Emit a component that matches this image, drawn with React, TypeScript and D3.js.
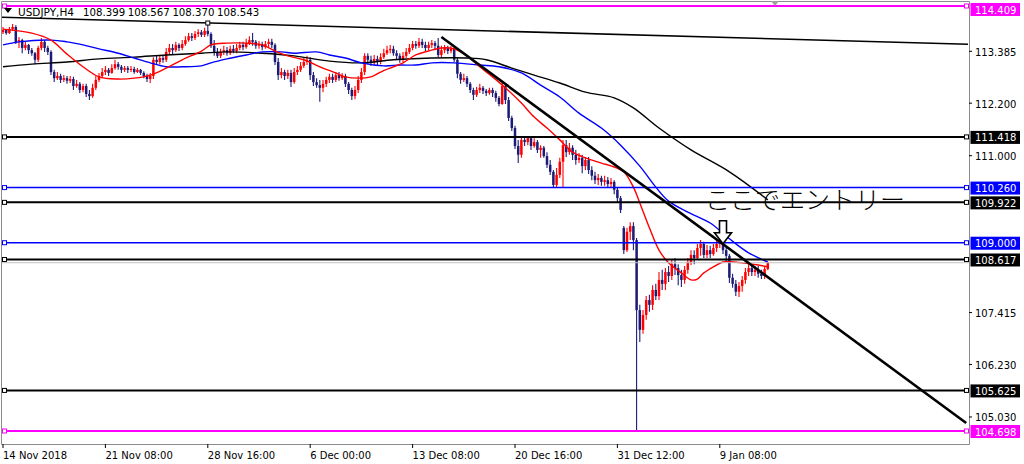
import * as d3 from "d3";

// USDJPY H4 candles
const opens = [
  113.81, 113.86, 113.79, 113.88, 113.93, 113.59, 113.63, 113.45, 113.52, 113.40,
  113.33, 113.18, 113.45, 113.59, 113.45, 113.36, 112.90, 112.76, 112.81, 112.72,
  112.76, 112.70, 112.74, 112.58, 112.63, 112.49, 112.58, 112.40, 112.35, 112.54,
  112.72, 112.81, 112.90, 112.95, 112.88, 112.99, 113.08, 113.02, 112.95, 112.99,
  112.95, 112.97, 112.90, 112.95, 112.88, 112.81, 112.74, 112.81, 113.18, 113.13,
  113.22, 113.18, 113.36, 113.45, 113.40, 113.52, 113.45, 113.54, 113.63, 113.72,
  113.68, 113.77, 113.81, 113.75, 113.84, 113.77, 113.50, 113.36, 113.27, 113.36,
  113.40, 113.33, 113.43, 113.38, 113.45, 113.52, 113.47, 113.56, 113.63, 113.59,
  113.50, 113.54, 113.47, 113.54, 113.59, 113.52, 113.13, 112.83, 112.90, 112.81,
  112.88, 112.67, 112.90, 112.95, 113.04, 113.13, 113.18, 112.83, 112.67, 112.60,
  112.54, 112.63, 112.72, 112.79, 112.72, 112.83, 112.76, 112.81, 112.63, 112.49,
  112.35, 112.49, 112.72, 112.90, 113.27, 113.18, 113.13, 113.20, 113.13, 113.24,
  113.33, 113.40, 113.43, 113.33, 113.27, 113.18, 113.27, 113.36, 113.45, 113.54,
  113.50, 113.59, 113.52, 113.45, 113.52, 113.56, 113.50, 113.29, 113.40, 113.45,
  113.38, 113.43, 113.18, 112.86, 112.72, 112.76, 112.63, 112.49, 112.38, 112.49,
  112.54, 112.47, 112.42, 112.49, 112.42, 112.31, 112.17, 112.58, 112.26, 111.85,
  111.62, 111.21, 111.01, 111.35, 111.30, 111.39, 111.21, 111.30, 111.12, 111.17,
  110.98, 110.78, 110.62, 110.32, 110.55, 110.85, 111.23, 111.07, 111.17, 111.01,
  110.89, 110.94, 110.75, 110.89, 110.66, 110.53, 110.43, 110.48, 110.39, 110.43,
  110.34, 110.39, 110.21, 110.02, 109.34, 108.83, 109.25, 109.38, 109.06, 107.46,
  107.01, 107.35, 107.69, 107.58, 107.92, 107.78, 108.15, 108.06, 108.33, 108.24,
  108.51, 108.42, 108.26, 108.15, 108.38, 108.56, 108.72, 108.65, 108.88, 108.97,
  108.72, 108.83, 108.74, 108.88, 108.97, 109.06, 108.83, 108.70, 108.20, 108.06,
  107.88, 108.01, 108.15, 108.33, 108.42, 108.33, 108.38, 108.29, 108.24, 108.399,
];
const highs = [
  113.93, 113.88, 113.93, 114.00, 113.97, 113.70, 113.66, 113.59, 113.54, 113.45,
  113.36, 113.50, 113.68, 113.63, 113.50, 113.40, 112.95, 112.90, 112.86, 112.83,
  112.81, 112.81, 112.79, 112.72, 112.67, 112.63, 112.63, 112.49, 112.63, 112.81,
  112.88, 112.99, 113.04, 112.99, 113.08, 113.18, 113.13, 113.06, 113.04, 113.04,
  113.04, 113.02, 112.99, 112.97, 112.92, 112.86, 112.88, 113.24, 113.27, 113.29,
  113.29, 113.45, 113.54, 113.54, 113.59, 113.56, 113.63, 113.72, 113.79, 113.79,
  113.84, 113.88, 113.86, 113.91, 114.02, 113.81, 113.63, 113.45, 113.43, 113.50,
  113.47, 113.50, 113.52, 113.54, 113.59, 113.59, 113.66, 113.72, 113.79, 113.63,
  113.61, 113.59, 113.61, 113.66, 113.66, 113.56, 113.22, 112.99, 112.95, 112.95,
  112.95, 112.99, 113.04, 113.13, 113.22, 113.27, 113.24, 112.90, 112.76, 112.72,
  112.72, 112.79, 112.86, 112.86, 112.90, 112.90, 112.88, 112.86, 112.67, 112.54,
  112.58, 112.81, 112.99, 113.33, 113.33, 113.27, 113.29, 113.27, 113.33, 113.43,
  113.50, 113.52, 113.50, 113.40, 113.33, 113.36, 113.45, 113.54, 113.61, 113.61,
  113.68, 113.66, 113.59, 113.59, 113.63, 113.61, 113.68, 113.50, 113.52, 113.50,
  113.50, 113.47, 113.22, 112.90, 112.86, 112.81, 112.67, 112.54, 112.56, 112.63,
  112.58, 112.51, 112.54, 112.54, 112.47, 112.35, 112.65, 112.63, 112.33, 111.90,
  111.67, 111.35, 111.44, 111.42, 111.44, 111.44, 111.39, 111.35, 111.23, 111.21,
  111.07, 110.89, 110.66, 110.71, 110.94, 111.35, 111.35, 111.28, 111.23, 111.12,
  111.05, 111.01, 110.96, 110.96, 110.75, 110.62, 110.57, 110.53, 110.53, 110.50,
  110.48, 110.43, 110.25, 110.07, 109.38, 109.34, 109.47, 109.47, 109.11, 107.58,
  107.46, 107.78, 107.81, 108.03, 108.06, 108.33, 108.38, 108.42, 108.47, 108.61,
  108.65, 108.51, 108.38, 108.47, 108.65, 108.83, 108.83, 108.97, 109.06, 109.02,
  108.95, 108.93, 108.97, 109.06, 109.15, 109.13, 108.93, 108.74, 108.29, 108.15,
  108.10, 108.24, 108.42, 108.51, 108.51, 108.47, 108.47, 108.38, 108.47, 108.567,
];
const lows = [
  113.77, 113.75, 113.77, 113.84, 113.54, 113.45, 113.33, 113.40, 113.31, 113.27,
  113.08, 113.13, 113.40, 113.36, 113.29, 112.83, 112.67, 112.72, 112.65, 112.67,
  112.63, 112.65, 112.49, 112.54, 112.42, 112.44, 112.33, 112.26, 112.31, 112.49,
  112.67, 112.76, 112.83, 112.81, 112.86, 112.95, 112.95, 112.88, 112.90, 112.88,
  112.90, 112.86, 112.88, 112.83, 112.76, 112.67, 112.65, 112.74, 113.06, 113.08,
  113.11, 113.13, 113.29, 113.31, 113.36, 113.38, 113.40, 113.50, 113.59, 113.61,
  113.63, 113.70, 113.70, 113.70, 113.72, 113.45, 113.27, 113.22, 113.22, 113.29,
  113.27, 113.29, 113.33, 113.33, 113.40, 113.40, 113.43, 113.52, 113.50, 113.43,
  113.43, 113.40, 113.43, 113.47, 113.45, 113.06, 112.72, 112.76, 112.72, 112.74,
  112.56, 112.63, 112.83, 112.90, 112.99, 113.06, 112.72, 112.58, 112.54, 112.22,
  112.44, 112.56, 112.65, 112.65, 112.67, 112.70, 112.72, 112.56, 112.40, 112.26,
  112.28, 112.42, 112.65, 112.83, 113.08, 113.04, 113.06, 113.04, 113.08, 113.20,
  113.29, 113.33, 113.27, 113.18, 113.11, 113.13, 113.22, 113.31, 113.40, 113.43,
  113.45, 113.45, 113.38, 113.40, 113.45, 113.40, 113.24, 113.24, 113.33, 113.31,
  113.33, 113.13, 112.76, 112.63, 112.67, 112.56, 112.42, 112.26, 112.33, 112.42,
  112.40, 112.35, 112.38, 112.33, 112.22, 112.12, 112.15, 112.17, 111.78, 111.55,
  111.14, 110.82, 110.94, 111.21, 111.23, 111.12, 111.17, 111.05, 110.94, 110.94,
  110.71, 110.55, 110.27, 110.27, 110.48, 110.27, 110.96, 111.01, 110.89, 110.78,
  110.82, 110.59, 110.66, 110.57, 110.43, 110.34, 110.32, 110.30, 110.30, 110.25,
  110.27, 110.11, 109.93, 109.68, 108.74, 108.79, 109.06, 108.83, 104.70, 106.73,
  106.92, 107.24, 107.42, 107.46, 107.69, 107.69, 107.92, 107.92, 108.10, 108.15,
  108.26, 108.03, 107.99, 108.06, 108.29, 108.49, 108.51, 108.61, 108.70, 108.65,
  108.65, 108.65, 108.70, 108.79, 108.88, 108.74, 108.56, 108.08, 107.97, 107.78,
  107.76, 107.88, 108.06, 108.24, 108.24, 108.24, 108.20, 108.17, 108.17, 108.370,
];
const closes = [
  113.86, 113.79, 113.88, 113.93, 113.59, 113.63, 113.45, 113.52, 113.40, 113.33,
  113.18, 113.45, 113.59, 113.45, 113.36, 112.90, 112.76, 112.81, 112.72, 112.76,
  112.70, 112.74, 112.58, 112.63, 112.49, 112.58, 112.40, 112.35, 112.54, 112.72,
  112.81, 112.90, 112.95, 112.88, 112.99, 113.08, 113.02, 112.95, 112.99, 112.95,
  112.97, 112.90, 112.95, 112.88, 112.81, 112.74, 112.81, 113.18, 113.13, 113.22,
  113.18, 113.36, 113.45, 113.40, 113.52, 113.45, 113.54, 113.63, 113.72, 113.68,
  113.77, 113.81, 113.75, 113.84, 113.77, 113.50, 113.36, 113.27, 113.36, 113.40,
  113.33, 113.43, 113.38, 113.45, 113.52, 113.47, 113.56, 113.63, 113.59, 113.50,
  113.54, 113.47, 113.54, 113.59, 113.52, 113.13, 112.83, 112.90, 112.81, 112.88,
  112.67, 112.90, 112.95, 113.04, 113.13, 113.18, 112.83, 112.67, 112.60, 112.54,
  112.63, 112.72, 112.79, 112.72, 112.83, 112.76, 112.81, 112.63, 112.49, 112.35,
  112.49, 112.72, 112.90, 113.27, 113.18, 113.13, 113.20, 113.13, 113.24, 113.33,
  113.40, 113.43, 113.33, 113.27, 113.18, 113.27, 113.36, 113.45, 113.54, 113.50,
  113.59, 113.52, 113.45, 113.52, 113.56, 113.50, 113.29, 113.40, 113.45, 113.38,
  113.43, 113.18, 112.86, 112.72, 112.76, 112.63, 112.49, 112.38, 112.49, 112.54,
  112.47, 112.42, 112.49, 112.42, 112.31, 112.17, 112.58, 112.26, 111.85, 111.62,
  111.21, 111.01, 111.35, 111.30, 111.39, 111.21, 111.30, 111.12, 111.17, 110.98,
  110.78, 110.62, 110.32, 110.55, 110.85, 111.23, 111.07, 111.17, 111.01, 110.89,
  110.94, 110.75, 110.89, 110.66, 110.53, 110.43, 110.48, 110.39, 110.43, 110.34,
  110.39, 110.21, 110.02, 109.75, 108.83, 109.25, 109.38, 109.06, 107.46, 107.01,
  107.35, 107.69, 107.58, 107.92, 107.78, 108.15, 108.06, 108.33, 108.24, 108.51,
  108.42, 108.26, 108.15, 108.38, 108.56, 108.72, 108.65, 108.88, 108.97, 108.72,
  108.83, 108.74, 108.88, 108.97, 109.06, 108.83, 108.70, 108.20, 108.06, 107.88,
  108.01, 108.15, 108.33, 108.42, 108.33, 108.38, 108.29, 108.24, 108.40, 108.543,
];

// moving averages, sampled by bar index
const redMaBars = [0, 9, 15, 20, 25, 30, 36, 41, 46, 51, 56, 62, 65, 70, 76, 81, 85, 89, 94, 100, 104, 107, 111, 115, 118, 122, 125, 129, 133, 137, 141, 145, 149, 153, 157, 162, 166, 170, 174, 178, 182, 187, 191, 194, 197, 199, 202, 205, 208, 212, 215, 217, 219, 222, 225, 228, 231, 236, 239];
const redMaValues = [113.88, 113.79, 113.63, 113.31, 113.02, 112.79, 112.74, 112.76, 112.83, 112.99, 113.18, 113.38, 113.52, 113.56, 113.56, 113.52, 113.38, 113.27, 113.18, 112.99, 112.88, 112.79, 112.76, 112.79, 112.90, 113.02, 113.11, 113.29, 113.38, 113.45, 113.43, 113.27, 113.02, 112.79, 112.54, 112.19, 111.87, 111.62, 111.35, 111.07, 110.94, 110.82, 110.73, 110.62, 110.27, 109.91, 109.34, 108.83, 108.54, 108.31, 108.15, 108.17, 108.31, 108.45, 108.56, 108.56, 108.54, 108.49, 108.45];
const blueMaBars = [0, 5, 15, 20, 25, 30, 36, 41, 46, 51, 56, 62, 65, 70, 76, 81, 87, 91, 98, 102, 107, 112, 119, 124, 129, 134, 141, 149, 155, 162, 168, 174, 180, 187, 193, 199, 204, 208, 214, 221, 227, 233, 239];
const blueMaValues = [113.52, 113.59, 113.63, 113.59, 113.52, 113.43, 113.33, 113.22, 113.11, 113.02, 113.02, 113.04, 113.11, 113.20, 113.29, 113.36, 113.36, 113.33, 113.36, 113.29, 113.22, 113.11, 113.04, 113.06, 113.06, 113.11, 113.11, 113.06, 113.02, 112.88, 112.60, 112.33, 111.96, 111.62, 111.23, 110.75, 110.27, 109.95, 109.70, 109.45, 109.09, 108.77, 108.56];
const blackMaBars = [0, 9, 20, 30, 41, 51, 62, 70, 81, 91, 102, 112, 122, 134, 145, 151, 159, 166, 174, 182, 191, 197, 205, 215, 227, 239];
const blackMaValues = [113.02, 113.08, 113.13, 113.20, 113.24, 113.29, 113.33, 113.36, 113.33, 113.27, 113.15, 113.11, 113.18, 113.22, 113.22, 113.18, 112.99, 112.83, 112.65, 112.44, 112.31, 112.08, 111.62, 111.12, 110.62, 109.98];

// horizontal price levels drawn on the chart
const levelPrices = [114.409, 111.418, 110.26, 109.922, 109.0, 108.617, 105.625, 104.698];
const levelKinds = ["range", "line", "zone", "line", "zone", "line", "line", "range"];
const bidPrice = 108.543;

// trend lines: [bar, price] pairs
const upperTrend = [[64, 114.02], [300, 113.54]];
const downTrend = [[137, 113.7], [301, 104.88]];

const priceTicks = [113.385, 112.2, 111.0, 107.415, 106.23, 105.03];
const timeLabels = ["14 Nov 2018", "21 Nov 08:00", "28 Nov 16:00", "6 Dec 00:00", "13 Dec 08:00", "20 Dec 16:00", "31 Dec 12:00", "9 Jan 08:00"];
const timeLabelBars = [0, 32, 64, 96, 128, 160, 192, 224];

const symbol = "USDJPY,H4";
const note = "ここでエントリー";
const entryBar = 225;

const kindColor: Record<string, string> = {
  range: "#ff00ff",
  line: "#000000",
  zone: "#0000ff",
};
const kindWidth: Record<string, number> = { range: 2, line: 2, zone: 1.5 };

const BULL = "#ff0000";
const BEAR = "#1c1c78";
const FONT = "DejaVu Sans, Verdana, sans-serif";

export default function App() {
  const x = d3.scaleLinear().domain([0, 301]).range([3, 966.2]);
  const y = d3.scaleLinear().domain([104.698, 114.409]).range([431, 6]);
  const left = 2;
  const right = 969;
  const bottom = 444;

  const maLine = (bars: number[], vals: number[]) =>
    d3
      .line<number>()
      .x((b) => x(b))
      .y((_b, i) => y(vals[i]))
      .curve(d3.curveCatmullRom)(bars) || "";

  const extend = (pts: number[][], fromX: number, toX: number) => {
    const [[b0, p0], [b1, p1]] = pts;
    const slope = (y(p1) - y(p0)) / (x(b1) - x(b0));
    return [fromX, y(p0) + (fromX - x(b0)) * slope, toX, y(p0) + (toX - x(b0)) * slope];
  };
  const up = extend(upperTrend, left, right - 1);
  const dn = [x(downTrend[0][0]), y(downTrend[0][1]), x(downTrend[1][0]), y(downTrend[1][1])];

  const last = closes.length - 1;
  const ohlc = [opens[last], highs[last], lows[last], closes[last]].map((v) => v.toFixed(3));

  const ax = x(entryBar);
  const ay = y(109.0) + 1;

  return (
    <svg
      width={1024}
      height={464}
      style={{ position: "absolute", left: 0, top: 0, background: "#fff" }}
      fontFamily={FONT}
    >
      <defs>
        <clipPath id="plot">
          <rect x={left} y={1} width={right - left} height={bottom - 1} />
        </clipPath>
      </defs>

      <g clipPath="url(#plot)">
        {closes.map((c, i) => {
          const o = opens[i];
          const col = c >= o ? BULL : BEAR;
          const cx = x(i);
          const top = Math.min(y(o), y(c));
          const h = Math.max(1, Math.abs(y(o) - y(c)));
          return (
            <g key={i}>
              <line x1={cx} x2={cx} y1={y(highs[i])} y2={y(lows[i])} stroke={col} strokeWidth={1.1} />
              <rect x={cx - 1.25} y={top} width={2.5} height={h} fill={col} />
            </g>
          );
        })}

        <path d={maLine(blackMaBars, blackMaValues)} fill="none" stroke="#000" strokeWidth={1.4} />
        <path d={maLine(blueMaBars, blueMaValues)} fill="none" stroke="#0000ff" strokeWidth={1.4} />
        <path d={maLine(redMaBars, redMaValues)} fill="none" stroke="#ff0000" strokeWidth={1.4} />

        <line x1={left} x2={right} y1={y(bidPrice)} y2={y(bidPrice)} stroke="#c0c0c0" strokeWidth={1} />

        {levelPrices.map((p, i) => {
          const col = kindColor[levelKinds[i]];
          const yy = y(p);
          return (
            <g key={p}>
              <line x1={left} x2={right} y1={yy} y2={yy} stroke={col} strokeWidth={kindWidth[levelKinds[i]]} />
              <rect x={2.5} y={yy - 2} width={4} height={4} fill="#fff" stroke={col} strokeWidth={1} />
              <rect x={964.5} y={yy - 2} width={4} height={4} fill="#fff" stroke={col} strokeWidth={1} />
            </g>
          );
        })}

        <line x1={up[0]} y1={up[1]} x2={up[2]} y2={up[3]} stroke="#000" strokeWidth={1.5} />
        <rect x={x(upperTrend[0][0]) - 2} y={y(upperTrend[0][1]) - 2} width={4} height={4} fill="#fff" stroke="#000" strokeWidth={1} />
        <line x1={dn[0]} y1={dn[1]} x2={dn[2]} y2={dn[3]} stroke="#000" strokeWidth={2.6} />

        <text
          x={705}
          y={209}
          fontFamily="Noto Sans CJK JP, sans-serif"
          fontSize={25}
          fontWeight={300}
          fill="#000"
        >
          {note}
        </text>

        <path
          d={`M${ax - 3.5},${ay - 23} H${ax + 3.5} V${ay - 11} H${ax + 8.5} L${ax},${ay} L${ax - 8.5},${ay - 11} H${ax - 3.5} Z`}
          fill="#fff"
          stroke="#000"
          strokeWidth={1.6}
          strokeLinejoin="miter"
        />
      </g>

      {/* frame */}
      <path d={`M${left - 0.5},${bottom + 0.5} V1.5 H${right + 0.5} V${bottom + 0.5} Z`} fill="none" stroke="#8c8c8c" strokeWidth={1} />
      <polygon points="771,1 779,1 775,6" fill="#a0a0a0" />

      {/* title */}
      <polygon points="4,8 12,8 8,13" fill="#000" />
      <text x={18} y={15.5} fontSize={10.5} fill="#000">
        {symbol}
      </text>
      {ohlc.map((v, i) => (
        <text key={i} x={83 + i * 44.7} y={15.5} fontSize={10.2} fill="#000">
          {v}
        </text>
      ))}

      {/* price axis */}
      {priceTicks.map((p) => (
        <g key={p}>
          <line x1={right} x2={right + 3} y1={y(p) + 0.5} y2={y(p) + 0.5} stroke="#000" />
          <text x={975} y={y(p) + 5} fontSize={10} fill="#000">
            {p.toFixed(3)}
          </text>
        </g>
      ))}
      {levelPrices.map((p, i) => {
        const yy = y(p);
        const top = Math.max(3, yy - 6);
        return (
          <g key={p}>
            <rect x={970.5} y={top} width={49.5} height={13} fill={kindColor[levelKinds[i]]} />
            <text x={975} y={top + 10.5} fontSize={10} fill="#fff">
              {p.toFixed(3)}
            </text>
          </g>
        );
      })}

      {/* time axis */}
      {timeLabelBars.map((b, i) => (
        <g key={b}>
          <line x1={x(b)} x2={x(b)} y1={bottom} y2={bottom + 4} stroke="#000" />
          <text x={x(b)} y={459} fontSize={10} fill="#000">
            {timeLabels[i]}
          </text>
        </g>
      ))}
    </svg>
  );
}
